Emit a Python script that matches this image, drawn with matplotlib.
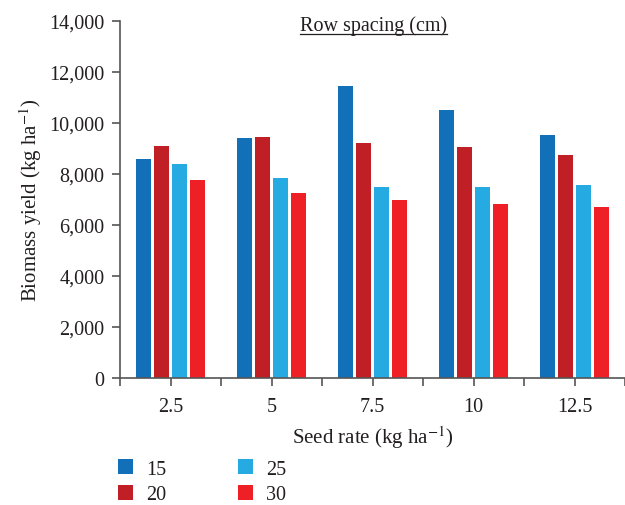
import numpy as np
import matplotlib.pyplot as plt
from matplotlib.lines import Line2D

plt.rcParams['font.family'] = ['Liberation Serif', 'DejaVu Serif']
plt.rcParams['mathtext.fontset'] = 'stix'

# --- dados ---
seed_rates = ['2.5', '5', '7.5', '10', '12.5']
spacings = ['15', '20', '25', '30']
yield_15 = [8590, 9410, 11450, 10510, 9530]
yield_20 = [9100, 9450, 9220, 9060, 8750]
yield_25 = [8390, 7840, 7490, 7490, 7570]
yield_30 = [7770, 7260, 6980, 6820, 6710]
cores = ['#1270B8', '#C01F26', '#25AAE1', '#EE1F25']

series = [yield_15, yield_20, yield_25, yield_30]

fig = plt.figure(figsize=(6.25, 5.06), dpi=100)
ax = fig.add_axes([0.192, 0.251, 0.808, 0.7055])

x = np.arange(len(seed_rates))
step = 0.18
width = 0.15
for i, (vals, c, lab) in enumerate(zip(series, cores, spacings)):
    off = (i - 1.5) * step
    ax.bar(x + off, vals, width=width, color=c, label=lab)

ax.set_xlim(-0.5, len(seed_rates) - 0.5)
ax.set_ylim(0, 14000)
ax.set_yticks(np.arange(0, 14001, 2000))
ax.set_yticklabels([f'{v:,}' for v in range(0, 14001, 2000)])
ax.set_xticks(x)
ax.set_xticklabels(seed_rates)
ax.set_xticks(np.arange(-0.5, len(seed_rates)), minor=True)

for s in ['top', 'right']:
    ax.spines[s].set_visible(False)
for s in ['left', 'bottom']:
    ax.spines[s].set_color('#555555')
    ax.spines[s].set_linewidth(1.2)
ax.tick_params(axis='both', which='both', colors='#555555', length=6, width=1.2,
               labelsize=14.5, labelcolor='#231f20')
ax.tick_params(axis='x', pad=8)
ax.tick_params(axis='y', pad=5)

ax.set_ylabel('Biomass yield (kg ha$^{-1}$)', fontsize=15, color='#231f20', labelpad=4)
ax.set_xlabel('Seed rate (kg ha$^{-1}$)', fontsize=15, color='#231f20', labelpad=5)

# titulo sublinhado
t = fig.text(0.597, 0.948, 'Row spacing (cm)', fontsize=14.5, color='#231f20',
             ha='center', va='center')
fig.canvas.draw()
bb = t.get_window_extent().transformed(fig.transFigure.inverted())
fig.add_artist(Line2D([bb.x0, bb.x1], [bb.y0 + 0.003, bb.y0 + 0.003],
                      transform=fig.transFigure, color='#231f20', lw=0.9))

leg = fig.legend(loc='upper left', bbox_to_anchor=(0.176, 0.106), ncol=2,
                 frameon=False, fontsize=14.5, handlelength=0.75, handleheight=0.75,
                 columnspacing=3.55, labelspacing=0.3, handletextpad=0.65,
                 borderaxespad=0)
for txt in leg.get_texts():
    txt.set_color('#231f20')

fig.savefig('out.png', dpi=100)
